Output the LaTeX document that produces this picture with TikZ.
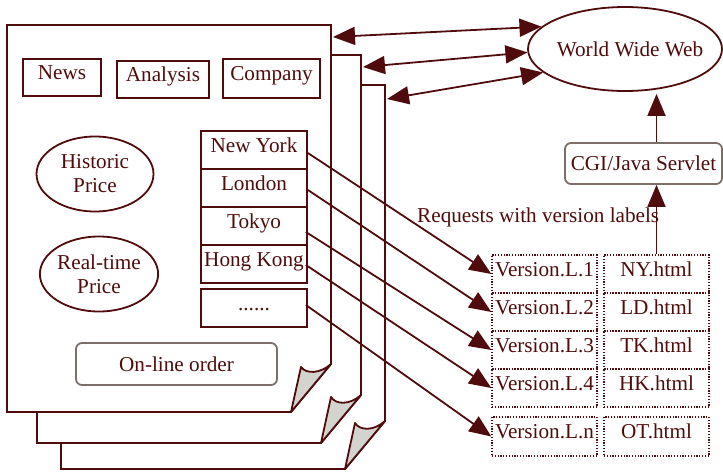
\documentclass[tikz,border=0pt]{standalone}
\usepackage{fontspec}
\setmainfont{Liberation Serif}
\usetikzlibrary{arrows.meta,shapes.geometric}
\definecolor{mar}{RGB}{80,12,12}
\definecolor{gbord}{RGB}{125,110,105}
\definecolor{fold}{RGB}{212,212,206}
\begin{document}
\begin{tikzpicture}[x=1pt,y=-1pt,
  every node/.style={font=\fontsize{21.2}{24}\selectfont, text=mar},
  lw/.style={line width=1.8pt, draw=mar},
  page/.style={lw, fill=white, line join=miter},
  curl/.style={lw, fill=fold, line join=round},
  sbox/.style={lw, rectangle, inner sep=0pt, text height=14pt, text depth=10pt},
  dbox/.style={draw=mar, line width=1.4pt, dash pattern=on 1.2pt off 1.6pt, rectangle, inner sep=0pt, minimum width=105pt, minimum height=38pt, text height=14pt, text depth=10pt},
  oval/.style={lw, ellipse, inner sep=0pt, align=center},
  rbox/.style={draw=gbord, line width=1.8pt, rounded corners=6pt, inner sep=0pt},
  arr/.style={lw, -{Triangle[length=22pt,width=18pt]}},
  dbl/.style={lw, {Triangle[length=22pt,width=18pt]}-{Triangle[length=22pt,width=18pt]}},
]
\useasboundingbox (0,0) rectangle (723,472);
% pages
\path[page] (61,85) -- (385,85) -- (385,421) -- (345,469) -- (61,469) -- cycle;
\path[curl] (385,421) .. controls (374,431) and (360,431) .. (355,423) -- (345,469) -- cycle;
\path[page] (37,55) -- (361,55) -- (361,395) -- (321,443) -- (37,443) -- cycle;
\path[curl] (361,395) .. controls (350,405) and (336,405) .. (331,397) -- (321,443) -- cycle;
\path[page] (7,25) -- (331,25) -- (331,364) -- (291,412) -- (7,412) -- cycle;
\path[curl] (331,364) .. controls (320,374) and (306,374) .. (301,367) -- (291,412) -- cycle;
\coordinate (p1) at (333,37);
\coordinate (p2) at (363,67);
\coordinate (p3) at (387,99);
% page content
\node[sbox, minimum width=78pt, minimum height=37pt] (news) at (62,77.5) {News};
\node[sbox, minimum width=92pt, minimum height=37pt] (analysis) at (163,79.5) {Analysis};
\node[sbox, minimum width=97pt, minimum height=39pt] (company) at (271.5,78.5) {Company};
\node[oval, minimum width=117pt, minimum height=75pt] (hist) at (95,174) {Historic\\Price};
\node[oval, minimum width=116pt, minimum height=75pt] (rt) at (99,274) {Real-time\\Price};
\node[sbox, minimum width=106pt, minimum height=38pt] (nyc) at (254,150) {New York};
\node[sbox, minimum width=106pt, minimum height=38pt] (lon) at (254,188) {London};
\node[sbox, minimum width=106pt, minimum height=38pt] (tok) at (254,226) {Tokyo};
\node[sbox, minimum width=106pt, minimum height=38pt] (hk) at (254,264) {\makebox[0pt]{Hong Kong}};
\node[sbox, minimum width=106pt, minimum height=38pt] (more) at (254,308) {......};
\node[rbox, minimum width=201pt, minimum height=42pt] (order) at (176.5,364) {On-line order};
% right side
\node[oval, minimum width=194pt, minimum height=84pt] (www) at (625,49) {\makebox[0pt]{\hspace{10pt}World Wide Web}};
\node[rbox, minimum width=157pt, minimum height=41pt] (cgi) at (643.5,163.5) {CGI/Java Servlet};
\node[dbox] (v1) at (544.5,274) {\makebox[0pt]{Version.L.1}};
\node[dbox] (v2) at (544.5,312) {\makebox[0pt]{Version.L.2}};
\node[dbox] (v3) at (544.5,350) {\makebox[0pt]{Version.L.3}};
\node[dbox] (v4) at (544.5,388) {\makebox[0pt]{Version.L.4}};
\node[dbox, minimum height=39pt] (vn) at (544.5,436.5) {\makebox[0pt]{Version.L.n}};
\node[dbox] (h1) at (656.5,274) {NY.html};
\node[dbox] (h2) at (656.5,312) {LD.html};
\node[dbox] (h3) at (656.5,350) {TK.html};
\node[dbox] (h4) at (656.5,388) {HK.html};
\node[dbox, minimum height=39pt] (hn) at (656.5,436.5) {OT.html};
\node[anchor=base west, inner sep=0pt] (req) at (417,222) {Requests with version labels};
% connectors
\draw[dbl] (p1) -- (www.165);
\draw[dbl] (p2) -- (www.182);
\draw[dbl] (p3) -- (www.196);
\draw[arr] (h1.north) -- (h1.north |- cgi.south);
\draw[arr, shorten >=2pt] (h1.north |- cgi.north) -- (h1.north |- www.south);
\draw[arr] ([yshift=-3pt]nyc.east) -- (v1.west);
\draw[arr] ([yshift=-2pt]lon.east) -- (v2.west);
\draw[arr] ([shift={(-2pt,-6pt)}]tok.east) -- (v3.west);
\draw[arr] ([shift={(-2pt,-1pt)}]hk.east) -- (v4.west);
\draw[arr] ([shift={(-2pt,3pt)}]more.east) -- (vn.west);
\end{tikzpicture}
\end{document}
